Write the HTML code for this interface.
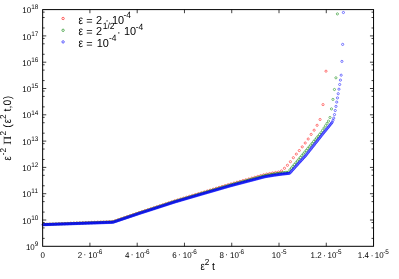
<!DOCTYPE html>
<html><head><meta charset="utf-8"><title>plot</title>
<style>html,body{margin:0;padding:0;background:#fff;}svg{display:block;will-change:transform;}text{text-rendering:geometricPrecision;font-family:"Liberation Sans",sans-serif;fill:#000;}.s{font-family:"Liberation Serif",serif;}</style></head><body>
<svg width="399" height="279" viewBox="0 0 399 279">
<rect x="0" y="0" width="399" height="279" fill="#fff"/>
<g fill="none" stroke="#ff0000" stroke-width="0.5"><circle cx="44.13" cy="224.33" r="1.1"/><circle cx="47.10" cy="224.21" r="1.1"/><circle cx="50.07" cy="224.09" r="1.1"/><circle cx="53.04" cy="223.97" r="1.1"/><circle cx="56.00" cy="223.84" r="1.1"/><circle cx="58.97" cy="223.72" r="1.1"/><circle cx="61.94" cy="223.60" r="1.1"/><circle cx="64.90" cy="223.48" r="1.1"/><circle cx="67.87" cy="223.36" r="1.1"/><circle cx="70.84" cy="223.23" r="1.1"/><circle cx="73.81" cy="223.11" r="1.1"/><circle cx="76.77" cy="222.99" r="1.1"/><circle cx="79.74" cy="222.87" r="1.1"/><circle cx="82.71" cy="222.74" r="1.1"/><circle cx="85.67" cy="222.62" r="1.1"/><circle cx="88.64" cy="222.50" r="1.1"/><circle cx="91.61" cy="222.38" r="1.1"/><circle cx="94.57" cy="222.26" r="1.1"/><circle cx="97.54" cy="222.13" r="1.1"/><circle cx="100.51" cy="222.01" r="1.1"/><circle cx="103.47" cy="221.89" r="1.1"/><circle cx="106.44" cy="221.77" r="1.1"/><circle cx="109.41" cy="221.64" r="1.1"/><circle cx="112.38" cy="221.52" r="1.1"/><circle cx="115.34" cy="220.70" r="1.1"/><circle cx="118.31" cy="219.68" r="1.1"/><circle cx="121.28" cy="218.66" r="1.1"/><circle cx="124.24" cy="217.65" r="1.1"/><circle cx="127.21" cy="216.63" r="1.1"/><circle cx="130.18" cy="215.62" r="1.1"/><circle cx="133.14" cy="214.60" r="1.1"/><circle cx="136.11" cy="213.58" r="1.1"/><circle cx="139.08" cy="212.57" r="1.1"/><circle cx="142.05" cy="211.59" r="1.1"/><circle cx="145.01" cy="210.62" r="1.1"/><circle cx="147.98" cy="209.66" r="1.1"/><circle cx="150.95" cy="208.69" r="1.1"/><circle cx="153.91" cy="207.70" r="1.1"/><circle cx="156.88" cy="206.72" r="1.1"/><circle cx="159.85" cy="205.73" r="1.1"/><circle cx="162.81" cy="204.75" r="1.1"/><circle cx="165.78" cy="203.76" r="1.1"/><circle cx="168.75" cy="202.78" r="1.1"/><circle cx="171.72" cy="201.79" r="1.1"/><circle cx="174.68" cy="200.81" r="1.1"/><circle cx="177.65" cy="199.91" r="1.1"/><circle cx="180.62" cy="199.01" r="1.1"/><circle cx="183.58" cy="198.12" r="1.1"/><circle cx="186.55" cy="197.23" r="1.1"/><circle cx="189.52" cy="196.34" r="1.1"/><circle cx="192.48" cy="195.45" r="1.1"/><circle cx="195.45" cy="194.56" r="1.1"/><circle cx="198.42" cy="193.67" r="1.1"/><circle cx="201.39" cy="192.78" r="1.1"/><circle cx="204.35" cy="191.89" r="1.1"/><circle cx="207.32" cy="190.99" r="1.1"/><circle cx="210.29" cy="190.09" r="1.1"/><circle cx="213.25" cy="189.20" r="1.1"/><circle cx="216.22" cy="188.30" r="1.1"/><circle cx="219.19" cy="187.41" r="1.1"/><circle cx="222.16" cy="186.51" r="1.1"/><circle cx="225.12" cy="185.61" r="1.1"/><circle cx="228.09" cy="184.72" r="1.1"/><circle cx="231.06" cy="183.85" r="1.1"/><circle cx="234.02" cy="183.03" r="1.1"/><circle cx="236.99" cy="182.22" r="1.1"/><circle cx="239.96" cy="181.40" r="1.1"/><circle cx="242.92" cy="180.59" r="1.1"/><circle cx="245.89" cy="179.77" r="1.1"/><circle cx="248.86" cy="178.96" r="1.1"/><circle cx="251.82" cy="178.13" r="1.1"/><circle cx="254.79" cy="177.29" r="1.1"/><circle cx="257.76" cy="176.45" r="1.1"/><circle cx="260.73" cy="175.61" r="1.1"/><circle cx="263.69" cy="174.77" r="1.1"/><circle cx="266.66" cy="174.09" r="1.1"/><circle cx="269.63" cy="173.54" r="1.1"/><circle cx="272.59" cy="172.98" r="1.1"/><circle cx="275.56" cy="172.48" r="1.1"/><circle cx="278.53" cy="172.03" r="1.1"/><circle cx="281.50" cy="170.90" r="1.1"/><circle cx="284.46" cy="168.30" r="1.1"/><circle cx="287.43" cy="165.30" r="1.1"/><circle cx="290.40" cy="161.70" r="1.1"/><circle cx="293.36" cy="157.70" r="1.1"/><circle cx="296.33" cy="154.10" r="1.1"/><circle cx="299.30" cy="150.55" r="1.1"/><circle cx="302.26" cy="146.85" r="1.1"/><circle cx="305.23" cy="143.00" r="1.1"/><circle cx="308.20" cy="139.00" r="1.1"/><circle cx="311.17" cy="134.40" r="1.1"/><circle cx="314.13" cy="130.20" r="1.1"/><circle cx="317.10" cy="125.30" r="1.1"/><circle cx="320.07" cy="119.50" r="1.1"/><circle cx="323.03" cy="104.60" r="1.1"/><circle cx="326.00" cy="71.20" r="1.1"/></g>
<g fill="none" stroke="#008000" stroke-width="0.5"><circle cx="43.67" cy="224.51" r="1.1"/><circle cx="45.15" cy="224.45" r="1.1"/><circle cx="46.63" cy="224.39" r="1.1"/><circle cx="48.12" cy="224.34" r="1.1"/><circle cx="49.60" cy="224.28" r="1.1"/><circle cx="51.08" cy="224.23" r="1.1"/><circle cx="52.57" cy="224.17" r="1.1"/><circle cx="54.05" cy="224.12" r="1.1"/><circle cx="55.53" cy="224.06" r="1.1"/><circle cx="57.02" cy="224.00" r="1.1"/><circle cx="58.50" cy="223.95" r="1.1"/><circle cx="59.99" cy="223.89" r="1.1"/><circle cx="61.47" cy="223.84" r="1.1"/><circle cx="62.95" cy="223.78" r="1.1"/><circle cx="64.44" cy="223.72" r="1.1"/><circle cx="65.92" cy="223.67" r="1.1"/><circle cx="67.40" cy="223.61" r="1.1"/><circle cx="68.89" cy="223.56" r="1.1"/><circle cx="70.37" cy="223.50" r="1.1"/><circle cx="71.85" cy="223.45" r="1.1"/><circle cx="73.34" cy="223.39" r="1.1"/><circle cx="74.82" cy="223.33" r="1.1"/><circle cx="76.30" cy="223.28" r="1.1"/><circle cx="77.79" cy="223.22" r="1.1"/><circle cx="79.27" cy="223.17" r="1.1"/><circle cx="80.75" cy="223.11" r="1.1"/><circle cx="82.24" cy="223.06" r="1.1"/><circle cx="83.72" cy="223.00" r="1.1"/><circle cx="85.20" cy="222.94" r="1.1"/><circle cx="86.69" cy="222.89" r="1.1"/><circle cx="88.17" cy="222.83" r="1.1"/><circle cx="89.66" cy="222.78" r="1.1"/><circle cx="91.14" cy="222.72" r="1.1"/><circle cx="92.62" cy="222.66" r="1.1"/><circle cx="94.11" cy="222.61" r="1.1"/><circle cx="95.59" cy="222.55" r="1.1"/><circle cx="97.07" cy="222.50" r="1.1"/><circle cx="98.56" cy="222.44" r="1.1"/><circle cx="100.04" cy="222.39" r="1.1"/><circle cx="101.52" cy="222.33" r="1.1"/><circle cx="103.01" cy="222.27" r="1.1"/><circle cx="104.49" cy="222.22" r="1.1"/><circle cx="105.97" cy="222.16" r="1.1"/><circle cx="107.46" cy="222.11" r="1.1"/><circle cx="108.94" cy="222.05" r="1.1"/><circle cx="110.42" cy="222.00" r="1.1"/><circle cx="111.91" cy="221.94" r="1.1"/><circle cx="113.39" cy="221.77" r="1.1"/><circle cx="114.87" cy="221.26" r="1.1"/><circle cx="116.36" cy="220.76" r="1.1"/><circle cx="117.84" cy="220.25" r="1.1"/><circle cx="119.33" cy="219.75" r="1.1"/><circle cx="120.81" cy="219.25" r="1.1"/><circle cx="122.29" cy="218.74" r="1.1"/><circle cx="123.78" cy="218.24" r="1.1"/><circle cx="125.26" cy="217.73" r="1.1"/><circle cx="126.74" cy="217.23" r="1.1"/><circle cx="128.23" cy="216.73" r="1.1"/><circle cx="129.71" cy="216.22" r="1.1"/><circle cx="131.19" cy="215.72" r="1.1"/><circle cx="132.68" cy="215.21" r="1.1"/><circle cx="134.16" cy="214.71" r="1.1"/><circle cx="135.64" cy="214.21" r="1.1"/><circle cx="137.13" cy="213.70" r="1.1"/><circle cx="138.61" cy="213.20" r="1.1"/><circle cx="140.09" cy="212.70" r="1.1"/><circle cx="141.58" cy="212.22" r="1.1"/><circle cx="143.06" cy="211.74" r="1.1"/><circle cx="144.54" cy="211.26" r="1.1"/><circle cx="146.03" cy="210.78" r="1.1"/><circle cx="147.51" cy="210.30" r="1.1"/><circle cx="149.00" cy="209.82" r="1.1"/><circle cx="150.48" cy="209.34" r="1.1"/><circle cx="151.96" cy="208.86" r="1.1"/><circle cx="153.45" cy="208.37" r="1.1"/><circle cx="154.93" cy="207.88" r="1.1"/><circle cx="156.41" cy="207.40" r="1.1"/><circle cx="157.90" cy="206.91" r="1.1"/><circle cx="159.38" cy="206.42" r="1.1"/><circle cx="160.86" cy="205.94" r="1.1"/><circle cx="162.35" cy="205.45" r="1.1"/><circle cx="163.83" cy="204.96" r="1.1"/><circle cx="165.31" cy="204.48" r="1.1"/><circle cx="166.80" cy="203.99" r="1.1"/><circle cx="168.28" cy="203.50" r="1.1"/><circle cx="169.76" cy="203.02" r="1.1"/><circle cx="171.25" cy="202.53" r="1.1"/><circle cx="172.73" cy="202.04" r="1.1"/><circle cx="174.21" cy="201.56" r="1.1"/><circle cx="175.70" cy="201.09" r="1.1"/><circle cx="177.18" cy="200.65" r="1.1"/><circle cx="178.67" cy="200.22" r="1.1"/><circle cx="180.15" cy="199.78" r="1.1"/><circle cx="181.63" cy="199.34" r="1.1"/><circle cx="183.12" cy="198.90" r="1.1"/><circle cx="184.60" cy="198.46" r="1.1"/><circle cx="186.08" cy="198.02" r="1.1"/><circle cx="187.57" cy="197.58" r="1.1"/><circle cx="189.05" cy="197.14" r="1.1"/><circle cx="190.53" cy="196.70" r="1.1"/><circle cx="192.02" cy="196.26" r="1.1"/><circle cx="193.50" cy="195.82" r="1.1"/><circle cx="194.98" cy="195.38" r="1.1"/><circle cx="196.47" cy="194.95" r="1.1"/><circle cx="197.95" cy="194.51" r="1.1"/><circle cx="199.43" cy="194.07" r="1.1"/><circle cx="200.92" cy="193.63" r="1.1"/><circle cx="202.40" cy="193.19" r="1.1"/><circle cx="203.88" cy="192.75" r="1.1"/><circle cx="205.37" cy="192.31" r="1.1"/><circle cx="206.85" cy="191.87" r="1.1"/><circle cx="208.34" cy="191.43" r="1.1"/><circle cx="209.82" cy="190.99" r="1.1"/><circle cx="211.30" cy="190.55" r="1.1"/><circle cx="212.79" cy="190.12" r="1.1"/><circle cx="214.27" cy="189.68" r="1.1"/><circle cx="215.75" cy="189.24" r="1.1"/><circle cx="217.24" cy="188.80" r="1.1"/><circle cx="218.72" cy="188.36" r="1.1"/><circle cx="220.20" cy="187.92" r="1.1"/><circle cx="221.69" cy="187.48" r="1.1"/><circle cx="223.17" cy="187.04" r="1.1"/><circle cx="224.65" cy="186.60" r="1.1"/><circle cx="226.14" cy="186.16" r="1.1"/><circle cx="227.62" cy="185.72" r="1.1"/><circle cx="229.10" cy="185.29" r="1.1"/><circle cx="230.59" cy="184.86" r="1.1"/><circle cx="232.07" cy="184.46" r="1.1"/><circle cx="233.55" cy="184.06" r="1.1"/><circle cx="235.04" cy="183.67" r="1.1"/><circle cx="236.52" cy="183.27" r="1.1"/><circle cx="238.01" cy="182.87" r="1.1"/><circle cx="239.49" cy="182.47" r="1.1"/><circle cx="240.97" cy="182.07" r="1.1"/><circle cx="242.46" cy="181.67" r="1.1"/><circle cx="243.94" cy="181.27" r="1.1"/><circle cx="245.42" cy="180.87" r="1.1"/><circle cx="246.91" cy="180.47" r="1.1"/><circle cx="248.39" cy="180.08" r="1.1"/><circle cx="249.87" cy="179.68" r="1.1"/><circle cx="251.36" cy="179.27" r="1.1"/><circle cx="252.84" cy="178.87" r="1.1"/><circle cx="254.32" cy="178.46" r="1.1"/><circle cx="255.81" cy="178.06" r="1.1"/><circle cx="257.29" cy="177.65" r="1.1"/><circle cx="258.77" cy="177.25" r="1.1"/><circle cx="260.26" cy="176.84" r="1.1"/><circle cx="261.74" cy="176.44" r="1.1"/><circle cx="263.22" cy="176.03" r="1.1"/><circle cx="264.71" cy="175.63" r="1.1"/><circle cx="266.19" cy="175.34" r="1.1"/><circle cx="267.68" cy="175.08" r="1.1"/><circle cx="269.16" cy="174.82" r="1.1"/><circle cx="270.64" cy="174.55" r="1.1"/><circle cx="272.13" cy="174.29" r="1.1"/><circle cx="273.61" cy="174.03" r="1.1"/><circle cx="275.09" cy="173.80" r="1.1"/><circle cx="276.58" cy="173.59" r="1.1"/><circle cx="278.06" cy="173.38" r="1.1"/><circle cx="279.54" cy="173.17" r="1.1"/><circle cx="281.03" cy="172.96" r="1.1"/><circle cx="282.51" cy="172.77" r="1.1"/><circle cx="283.99" cy="172.60" r="1.1"/><circle cx="285.48" cy="172.44" r="1.1"/><circle cx="286.96" cy="172.29" r="1.1"/><circle cx="288.44" cy="172.13" r="1.1"/><circle cx="289.93" cy="169.83" r="1.1"/><circle cx="291.41" cy="168.08" r="1.1"/><circle cx="292.89" cy="166.33" r="1.1"/><circle cx="294.38" cy="164.56" r="1.1"/><circle cx="295.86" cy="162.79" r="1.1"/><circle cx="297.35" cy="161.02" r="1.1"/><circle cx="298.83" cy="159.25" r="1.1"/><circle cx="300.31" cy="157.48" r="1.1"/><circle cx="301.80" cy="155.71" r="1.1"/><circle cx="303.28" cy="153.94" r="1.1"/><circle cx="304.76" cy="152.17" r="1.1"/><circle cx="306.25" cy="150.40" r="1.1"/><circle cx="307.73" cy="148.63" r="1.1"/><circle cx="309.21" cy="146.86" r="1.1"/><circle cx="310.70" cy="145.09" r="1.1"/><circle cx="312.18" cy="143.32" r="1.1"/><circle cx="313.66" cy="141.55" r="1.1"/><circle cx="315.15" cy="139.78" r="1.1"/><circle cx="316.63" cy="138.01" r="1.1"/><circle cx="318.11" cy="136.24" r="1.1"/><circle cx="319.60" cy="134.47" r="1.1"/><circle cx="321.08" cy="132.67" r="1.1"/><circle cx="322.56" cy="130.36" r="1.1"/><circle cx="324.05" cy="128.04" r="1.1"/><circle cx="325.53" cy="125.73" r="1.1"/><circle cx="327.02" cy="123.41" r="1.1"/><circle cx="328.50" cy="121.10" r="1.1"/><circle cx="329.98" cy="117.50" r="1.1"/><circle cx="331.47" cy="108.90" r="1.1"/><circle cx="332.95" cy="99.40" r="1.1"/><circle cx="334.43" cy="89.50" r="1.1"/><circle cx="335.92" cy="77.80" r="1.1"/><circle cx="337.40" cy="13.90" r="1.1"/></g>
<g fill="none" stroke="#0000ff" stroke-width="0.5"><circle cx="42.89" cy="224.69" r="1.1"/><circle cx="43.63" cy="224.66" r="1.1"/><circle cx="44.37" cy="224.64" r="1.1"/><circle cx="45.12" cy="224.61" r="1.1"/><circle cx="45.86" cy="224.59" r="1.1"/><circle cx="46.60" cy="224.56" r="1.1"/><circle cx="47.34" cy="224.54" r="1.1"/><circle cx="48.08" cy="224.51" r="1.1"/><circle cx="48.83" cy="224.48" r="1.1"/><circle cx="49.57" cy="224.46" r="1.1"/><circle cx="50.31" cy="224.43" r="1.1"/><circle cx="51.05" cy="224.41" r="1.1"/><circle cx="51.79" cy="224.38" r="1.1"/><circle cx="52.54" cy="224.36" r="1.1"/><circle cx="53.28" cy="224.33" r="1.1"/><circle cx="54.02" cy="224.31" r="1.1"/><circle cx="54.76" cy="224.28" r="1.1"/><circle cx="55.50" cy="224.26" r="1.1"/><circle cx="56.25" cy="224.23" r="1.1"/><circle cx="56.99" cy="224.21" r="1.1"/><circle cx="57.73" cy="224.18" r="1.1"/><circle cx="58.47" cy="224.16" r="1.1"/><circle cx="59.21" cy="224.13" r="1.1"/><circle cx="59.96" cy="224.11" r="1.1"/><circle cx="60.70" cy="224.08" r="1.1"/><circle cx="61.44" cy="224.06" r="1.1"/><circle cx="62.18" cy="224.03" r="1.1"/><circle cx="62.92" cy="224.00" r="1.1"/><circle cx="63.67" cy="223.98" r="1.1"/><circle cx="64.41" cy="223.95" r="1.1"/><circle cx="65.15" cy="223.93" r="1.1"/><circle cx="65.89" cy="223.90" r="1.1"/><circle cx="66.63" cy="223.88" r="1.1"/><circle cx="67.38" cy="223.85" r="1.1"/><circle cx="68.12" cy="223.83" r="1.1"/><circle cx="68.86" cy="223.80" r="1.1"/><circle cx="69.60" cy="223.78" r="1.1"/><circle cx="70.34" cy="223.75" r="1.1"/><circle cx="71.09" cy="223.73" r="1.1"/><circle cx="71.83" cy="223.70" r="1.1"/><circle cx="72.57" cy="223.68" r="1.1"/><circle cx="73.31" cy="223.65" r="1.1"/><circle cx="74.05" cy="223.63" r="1.1"/><circle cx="74.80" cy="223.60" r="1.1"/><circle cx="75.54" cy="223.58" r="1.1"/><circle cx="76.28" cy="223.55" r="1.1"/><circle cx="77.02" cy="223.52" r="1.1"/><circle cx="77.76" cy="223.50" r="1.1"/><circle cx="78.51" cy="223.47" r="1.1"/><circle cx="79.25" cy="223.45" r="1.1"/><circle cx="79.99" cy="223.42" r="1.1"/><circle cx="80.73" cy="223.40" r="1.1"/><circle cx="81.47" cy="223.37" r="1.1"/><circle cx="82.22" cy="223.35" r="1.1"/><circle cx="82.96" cy="223.32" r="1.1"/><circle cx="83.70" cy="223.30" r="1.1"/><circle cx="84.44" cy="223.27" r="1.1"/><circle cx="85.18" cy="223.25" r="1.1"/><circle cx="85.93" cy="223.22" r="1.1"/><circle cx="86.67" cy="223.20" r="1.1"/><circle cx="87.41" cy="223.17" r="1.1"/><circle cx="88.15" cy="223.15" r="1.1"/><circle cx="88.89" cy="223.12" r="1.1"/><circle cx="89.64" cy="223.10" r="1.1"/><circle cx="90.38" cy="223.07" r="1.1"/><circle cx="91.12" cy="223.04" r="1.1"/><circle cx="91.86" cy="223.02" r="1.1"/><circle cx="92.60" cy="222.99" r="1.1"/><circle cx="93.35" cy="222.97" r="1.1"/><circle cx="94.09" cy="222.94" r="1.1"/><circle cx="94.83" cy="222.92" r="1.1"/><circle cx="95.57" cy="222.89" r="1.1"/><circle cx="96.31" cy="222.87" r="1.1"/><circle cx="97.06" cy="222.84" r="1.1"/><circle cx="97.80" cy="222.82" r="1.1"/><circle cx="98.54" cy="222.79" r="1.1"/><circle cx="99.28" cy="222.77" r="1.1"/><circle cx="100.02" cy="222.74" r="1.1"/><circle cx="100.77" cy="222.72" r="1.1"/><circle cx="101.51" cy="222.69" r="1.1"/><circle cx="102.25" cy="222.67" r="1.1"/><circle cx="102.99" cy="222.64" r="1.1"/><circle cx="103.73" cy="222.62" r="1.1"/><circle cx="104.48" cy="222.59" r="1.1"/><circle cx="105.22" cy="222.56" r="1.1"/><circle cx="105.96" cy="222.54" r="1.1"/><circle cx="106.70" cy="222.51" r="1.1"/><circle cx="107.44" cy="222.49" r="1.1"/><circle cx="108.19" cy="222.46" r="1.1"/><circle cx="108.93" cy="222.44" r="1.1"/><circle cx="109.67" cy="222.41" r="1.1"/><circle cx="110.41" cy="222.39" r="1.1"/><circle cx="111.15" cy="222.36" r="1.1"/><circle cx="111.90" cy="222.34" r="1.1"/><circle cx="112.64" cy="222.31" r="1.1"/><circle cx="113.38" cy="222.17" r="1.1"/><circle cx="114.12" cy="221.92" r="1.1"/><circle cx="114.86" cy="221.67" r="1.1"/><circle cx="115.61" cy="221.42" r="1.1"/><circle cx="116.35" cy="221.17" r="1.1"/><circle cx="117.09" cy="220.92" r="1.1"/><circle cx="117.83" cy="220.67" r="1.1"/><circle cx="118.57" cy="220.42" r="1.1"/><circle cx="119.32" cy="220.17" r="1.1"/><circle cx="120.06" cy="219.92" r="1.1"/><circle cx="120.80" cy="219.67" r="1.1"/><circle cx="121.54" cy="219.42" r="1.1"/><circle cx="122.28" cy="219.17" r="1.1"/><circle cx="123.03" cy="218.92" r="1.1"/><circle cx="123.77" cy="218.67" r="1.1"/><circle cx="124.51" cy="218.42" r="1.1"/><circle cx="125.25" cy="218.17" r="1.1"/><circle cx="125.99" cy="217.92" r="1.1"/><circle cx="126.74" cy="217.67" r="1.1"/><circle cx="127.48" cy="217.42" r="1.1"/><circle cx="128.22" cy="217.17" r="1.1"/><circle cx="128.96" cy="216.92" r="1.1"/><circle cx="129.70" cy="216.67" r="1.1"/><circle cx="130.45" cy="216.42" r="1.1"/><circle cx="131.19" cy="216.17" r="1.1"/><circle cx="131.93" cy="215.92" r="1.1"/><circle cx="132.67" cy="215.67" r="1.1"/><circle cx="133.41" cy="215.42" r="1.1"/><circle cx="134.16" cy="215.17" r="1.1"/><circle cx="134.90" cy="214.92" r="1.1"/><circle cx="135.64" cy="214.67" r="1.1"/><circle cx="136.38" cy="214.42" r="1.1"/><circle cx="137.12" cy="214.17" r="1.1"/><circle cx="137.87" cy="213.92" r="1.1"/><circle cx="138.61" cy="213.67" r="1.1"/><circle cx="139.35" cy="213.42" r="1.1"/><circle cx="140.09" cy="213.17" r="1.1"/><circle cx="140.83" cy="212.93" r="1.1"/><circle cx="141.58" cy="212.70" r="1.1"/><circle cx="142.32" cy="212.46" r="1.1"/><circle cx="143.06" cy="212.22" r="1.1"/><circle cx="143.80" cy="211.98" r="1.1"/><circle cx="144.54" cy="211.75" r="1.1"/><circle cx="145.29" cy="211.51" r="1.1"/><circle cx="146.03" cy="211.27" r="1.1"/><circle cx="146.77" cy="211.03" r="1.1"/><circle cx="147.51" cy="210.80" r="1.1"/><circle cx="148.25" cy="210.56" r="1.1"/><circle cx="149.00" cy="210.32" r="1.1"/><circle cx="149.74" cy="210.08" r="1.1"/><circle cx="150.48" cy="209.84" r="1.1"/><circle cx="151.22" cy="209.60" r="1.1"/><circle cx="151.96" cy="209.36" r="1.1"/><circle cx="152.71" cy="209.12" r="1.1"/><circle cx="153.45" cy="208.88" r="1.1"/><circle cx="154.19" cy="208.64" r="1.1"/><circle cx="154.93" cy="208.40" r="1.1"/><circle cx="155.67" cy="208.16" r="1.1"/><circle cx="156.42" cy="207.92" r="1.1"/><circle cx="157.16" cy="207.68" r="1.1"/><circle cx="157.90" cy="207.44" r="1.1"/><circle cx="158.64" cy="207.20" r="1.1"/><circle cx="159.38" cy="206.96" r="1.1"/><circle cx="160.13" cy="206.72" r="1.1"/><circle cx="160.87" cy="206.48" r="1.1"/><circle cx="161.61" cy="206.24" r="1.1"/><circle cx="162.35" cy="206.00" r="1.1"/><circle cx="163.09" cy="205.76" r="1.1"/><circle cx="163.84" cy="205.52" r="1.1"/><circle cx="164.58" cy="205.28" r="1.1"/><circle cx="165.32" cy="205.04" r="1.1"/><circle cx="166.06" cy="204.80" r="1.1"/><circle cx="166.80" cy="204.56" r="1.1"/><circle cx="167.55" cy="204.32" r="1.1"/><circle cx="168.29" cy="204.07" r="1.1"/><circle cx="169.03" cy="203.83" r="1.1"/><circle cx="169.77" cy="203.59" r="1.1"/><circle cx="170.51" cy="203.35" r="1.1"/><circle cx="171.26" cy="203.11" r="1.1"/><circle cx="172.00" cy="202.87" r="1.1"/><circle cx="172.74" cy="202.63" r="1.1"/><circle cx="173.48" cy="202.39" r="1.1"/><circle cx="174.22" cy="202.15" r="1.1"/><circle cx="174.97" cy="201.91" r="1.1"/><circle cx="175.71" cy="201.69" r="1.1"/><circle cx="176.45" cy="201.48" r="1.1"/><circle cx="177.19" cy="201.26" r="1.1"/><circle cx="177.93" cy="201.04" r="1.1"/><circle cx="178.68" cy="200.83" r="1.1"/><circle cx="179.42" cy="200.61" r="1.1"/><circle cx="180.16" cy="200.39" r="1.1"/><circle cx="180.90" cy="200.18" r="1.1"/><circle cx="181.64" cy="199.96" r="1.1"/><circle cx="182.39" cy="199.74" r="1.1"/><circle cx="183.13" cy="199.53" r="1.1"/><circle cx="183.87" cy="199.31" r="1.1"/><circle cx="184.61" cy="199.09" r="1.1"/><circle cx="185.35" cy="198.88" r="1.1"/><circle cx="186.10" cy="198.66" r="1.1"/><circle cx="186.84" cy="198.44" r="1.1"/><circle cx="187.58" cy="198.23" r="1.1"/><circle cx="188.32" cy="198.01" r="1.1"/><circle cx="189.06" cy="197.79" r="1.1"/><circle cx="189.81" cy="197.58" r="1.1"/><circle cx="190.55" cy="197.36" r="1.1"/><circle cx="191.29" cy="197.14" r="1.1"/><circle cx="192.03" cy="196.93" r="1.1"/><circle cx="192.77" cy="196.71" r="1.1"/><circle cx="193.52" cy="196.49" r="1.1"/><circle cx="194.26" cy="196.28" r="1.1"/><circle cx="195.00" cy="196.06" r="1.1"/><circle cx="195.74" cy="195.84" r="1.1"/><circle cx="196.48" cy="195.63" r="1.1"/><circle cx="197.23" cy="195.41" r="1.1"/><circle cx="197.97" cy="195.19" r="1.1"/><circle cx="198.71" cy="194.98" r="1.1"/><circle cx="199.45" cy="194.76" r="1.1"/><circle cx="200.19" cy="194.54" r="1.1"/><circle cx="200.94" cy="194.33" r="1.1"/><circle cx="201.68" cy="194.11" r="1.1"/><circle cx="202.42" cy="193.90" r="1.1"/><circle cx="203.16" cy="193.68" r="1.1"/><circle cx="203.90" cy="193.47" r="1.1"/><circle cx="204.65" cy="193.25" r="1.1"/><circle cx="205.39" cy="193.04" r="1.1"/><circle cx="206.13" cy="192.82" r="1.1"/><circle cx="206.87" cy="192.61" r="1.1"/><circle cx="207.61" cy="192.39" r="1.1"/><circle cx="208.36" cy="192.18" r="1.1"/><circle cx="209.10" cy="191.96" r="1.1"/><circle cx="209.84" cy="191.75" r="1.1"/><circle cx="210.58" cy="191.53" r="1.1"/><circle cx="211.32" cy="191.32" r="1.1"/><circle cx="212.07" cy="191.10" r="1.1"/><circle cx="212.81" cy="190.89" r="1.1"/><circle cx="213.55" cy="190.67" r="1.1"/><circle cx="214.29" cy="190.46" r="1.1"/><circle cx="215.03" cy="190.24" r="1.1"/><circle cx="215.78" cy="190.02" r="1.1"/><circle cx="216.52" cy="189.81" r="1.1"/><circle cx="217.26" cy="189.59" r="1.1"/><circle cx="218.00" cy="189.38" r="1.1"/><circle cx="218.74" cy="189.16" r="1.1"/><circle cx="219.49" cy="188.95" r="1.1"/><circle cx="220.23" cy="188.73" r="1.1"/><circle cx="220.97" cy="188.52" r="1.1"/><circle cx="221.71" cy="188.30" r="1.1"/><circle cx="222.45" cy="188.09" r="1.1"/><circle cx="223.20" cy="187.87" r="1.1"/><circle cx="223.94" cy="187.66" r="1.1"/><circle cx="224.68" cy="187.44" r="1.1"/><circle cx="225.42" cy="187.23" r="1.1"/><circle cx="226.16" cy="187.01" r="1.1"/><circle cx="226.91" cy="186.80" r="1.1"/><circle cx="227.65" cy="186.58" r="1.1"/><circle cx="228.39" cy="186.37" r="1.1"/><circle cx="229.13" cy="186.15" r="1.1"/><circle cx="229.87" cy="185.94" r="1.1"/><circle cx="230.62" cy="185.74" r="1.1"/><circle cx="231.36" cy="185.54" r="1.1"/><circle cx="232.10" cy="185.35" r="1.1"/><circle cx="232.84" cy="185.15" r="1.1"/><circle cx="233.58" cy="184.96" r="1.1"/><circle cx="234.33" cy="184.76" r="1.1"/><circle cx="235.07" cy="184.57" r="1.1"/><circle cx="235.81" cy="184.37" r="1.1"/><circle cx="236.55" cy="184.18" r="1.1"/><circle cx="237.29" cy="183.98" r="1.1"/><circle cx="238.04" cy="183.79" r="1.1"/><circle cx="238.78" cy="183.59" r="1.1"/><circle cx="239.52" cy="183.40" r="1.1"/><circle cx="240.26" cy="183.20" r="1.1"/><circle cx="241.00" cy="183.01" r="1.1"/><circle cx="241.75" cy="182.81" r="1.1"/><circle cx="242.49" cy="182.62" r="1.1"/><circle cx="243.23" cy="182.42" r="1.1"/><circle cx="243.97" cy="182.23" r="1.1"/><circle cx="244.71" cy="182.03" r="1.1"/><circle cx="245.46" cy="181.84" r="1.1"/><circle cx="246.20" cy="181.64" r="1.1"/><circle cx="246.94" cy="181.45" r="1.1"/><circle cx="247.68" cy="181.25" r="1.1"/><circle cx="248.42" cy="181.06" r="1.1"/><circle cx="249.17" cy="180.86" r="1.1"/><circle cx="249.91" cy="180.67" r="1.1"/><circle cx="250.65" cy="180.47" r="1.1"/><circle cx="251.39" cy="180.28" r="1.1"/><circle cx="252.13" cy="180.08" r="1.1"/><circle cx="252.88" cy="179.89" r="1.1"/><circle cx="253.62" cy="179.69" r="1.1"/><circle cx="254.36" cy="179.50" r="1.1"/><circle cx="255.10" cy="179.30" r="1.1"/><circle cx="255.84" cy="179.11" r="1.1"/><circle cx="256.59" cy="178.91" r="1.1"/><circle cx="257.33" cy="178.72" r="1.1"/><circle cx="258.07" cy="178.52" r="1.1"/><circle cx="258.81" cy="178.33" r="1.1"/><circle cx="259.55" cy="178.13" r="1.1"/><circle cx="260.30" cy="177.94" r="1.1"/><circle cx="261.04" cy="177.74" r="1.1"/><circle cx="261.78" cy="177.55" r="1.1"/><circle cx="262.52" cy="177.35" r="1.1"/><circle cx="263.26" cy="177.16" r="1.1"/><circle cx="264.01" cy="176.96" r="1.1"/><circle cx="264.75" cy="176.77" r="1.1"/><circle cx="265.49" cy="176.62" r="1.1"/><circle cx="266.23" cy="176.49" r="1.1"/><circle cx="266.97" cy="176.37" r="1.1"/><circle cx="267.72" cy="176.25" r="1.1"/><circle cx="268.46" cy="176.12" r="1.1"/><circle cx="269.20" cy="176.00" r="1.1"/><circle cx="269.94" cy="175.88" r="1.1"/><circle cx="270.68" cy="175.75" r="1.1"/><circle cx="271.43" cy="175.63" r="1.1"/><circle cx="272.17" cy="175.51" r="1.1"/><circle cx="272.91" cy="175.38" r="1.1"/><circle cx="273.65" cy="175.26" r="1.1"/><circle cx="274.39" cy="175.15" r="1.1"/><circle cx="275.14" cy="175.05" r="1.1"/><circle cx="275.88" cy="174.95" r="1.1"/><circle cx="276.62" cy="174.85" r="1.1"/><circle cx="277.36" cy="174.75" r="1.1"/><circle cx="278.10" cy="174.65" r="1.1"/><circle cx="278.85" cy="174.55" r="1.1"/><circle cx="279.59" cy="174.45" r="1.1"/><circle cx="280.33" cy="174.36" r="1.1"/><circle cx="281.07" cy="174.26" r="1.1"/><circle cx="281.81" cy="174.16" r="1.1"/><circle cx="282.56" cy="174.06" r="1.1"/><circle cx="283.30" cy="173.97" r="1.1"/><circle cx="284.04" cy="173.89" r="1.1"/><circle cx="284.78" cy="173.81" r="1.1"/><circle cx="285.52" cy="173.74" r="1.1"/><circle cx="286.27" cy="173.66" r="1.1"/><circle cx="287.01" cy="173.58" r="1.1"/><circle cx="287.75" cy="173.50" r="1.1"/><circle cx="288.49" cy="173.43" r="1.1"/><circle cx="289.23" cy="173.35" r="1.1"/><circle cx="289.98" cy="172.99" r="1.1"/><circle cx="290.72" cy="172.15" r="1.1"/><circle cx="291.46" cy="171.32" r="1.1"/><circle cx="292.20" cy="170.48" r="1.1"/><circle cx="292.94" cy="169.65" r="1.1"/><circle cx="293.69" cy="168.81" r="1.1"/><circle cx="294.43" cy="167.97" r="1.1"/><circle cx="295.17" cy="167.14" r="1.1"/><circle cx="295.91" cy="166.30" r="1.1"/><circle cx="296.65" cy="165.47" r="1.1"/><circle cx="297.40" cy="164.63" r="1.1"/><circle cx="298.14" cy="163.81" r="1.1"/><circle cx="298.88" cy="163.01" r="1.1"/><circle cx="299.62" cy="162.20" r="1.1"/><circle cx="300.36" cy="161.39" r="1.1"/><circle cx="301.11" cy="160.59" r="1.1"/><circle cx="301.85" cy="159.78" r="1.1"/><circle cx="302.59" cy="158.97" r="1.1"/><circle cx="303.33" cy="158.17" r="1.1"/><circle cx="304.07" cy="157.36" r="1.1"/><circle cx="304.82" cy="156.55" r="1.1"/><circle cx="305.56" cy="155.75" r="1.1"/><circle cx="306.30" cy="154.81" r="1.1"/><circle cx="307.04" cy="153.87" r="1.1"/><circle cx="307.78" cy="152.93" r="1.1"/><circle cx="308.53" cy="151.99" r="1.1"/><circle cx="309.27" cy="151.05" r="1.1"/><circle cx="310.01" cy="150.11" r="1.1"/><circle cx="310.75" cy="149.17" r="1.1"/><circle cx="311.49" cy="148.23" r="1.1"/><circle cx="312.24" cy="147.29" r="1.1"/><circle cx="312.98" cy="146.35" r="1.1"/><circle cx="313.72" cy="145.41" r="1.1"/><circle cx="314.46" cy="144.47" r="1.1"/><circle cx="315.20" cy="143.53" r="1.1"/><circle cx="315.95" cy="142.59" r="1.1"/><circle cx="316.69" cy="141.65" r="1.1"/><circle cx="317.43" cy="140.71" r="1.1"/><circle cx="318.17" cy="139.77" r="1.1"/><circle cx="318.91" cy="138.83" r="1.1"/><circle cx="319.66" cy="137.88" r="1.1"/><circle cx="320.40" cy="136.94" r="1.1"/><circle cx="321.14" cy="136.00" r="1.1"/><circle cx="321.88" cy="135.06" r="1.1"/><circle cx="322.62" cy="134.12" r="1.1"/><circle cx="323.37" cy="133.20" r="1.1"/><circle cx="324.11" cy="132.29" r="1.1"/><circle cx="324.85" cy="131.37" r="1.1"/><circle cx="325.59" cy="130.46" r="1.1"/><circle cx="326.33" cy="129.54" r="1.1"/><circle cx="327.08" cy="128.63" r="1.1"/><circle cx="327.82" cy="127.72" r="1.1"/><circle cx="328.56" cy="126.80" r="1.1"/><circle cx="329.30" cy="125.89" r="1.1"/><circle cx="330.04" cy="124.97" r="1.1"/><circle cx="330.79" cy="124.06" r="1.1"/><circle cx="331.53" cy="123.14" r="1.1"/><circle cx="332.27" cy="122.23" r="1.1"/><circle cx="333.01" cy="120.30" r="1.1"/><circle cx="333.75" cy="118.10" r="1.1"/><circle cx="334.50" cy="114.60" r="1.1"/><circle cx="335.24" cy="110.50" r="1.1"/><circle cx="335.98" cy="106.40" r="1.1"/><circle cx="336.72" cy="102.10" r="1.1"/><circle cx="337.46" cy="97.90" r="1.1"/><circle cx="338.21" cy="93.70" r="1.1"/><circle cx="338.95" cy="89.20" r="1.1"/><circle cx="339.69" cy="84.50" r="1.1"/><circle cx="340.43" cy="80.10" r="1.1"/><circle cx="341.17" cy="75.20" r="1.1"/><circle cx="341.92" cy="61.40" r="1.1"/><circle cx="342.66" cy="44.40" r="1.1"/><circle cx="343.40" cy="12.50" r="1.1"/></g>
<rect x="42.65" y="9.6" width="330.90000000000003" height="236.70000000000002" fill="none" stroke="#000" stroke-width="1"/>
<path d="M42.65 238.38h2.0M373.55 238.38h-2.0M42.65 227.92h2.0M373.55 227.92h-2.0M42.65 222.55h2.0M373.55 222.55h-2.0M42.65 220.00h3.6M373.55 220.00h-3.6M42.65 212.08h2.0M373.55 212.08h-2.0M42.65 201.62h2.0M373.55 201.62h-2.0M42.65 196.25h2.0M373.55 196.25h-2.0M42.65 193.70h3.6M373.55 193.70h-3.6M42.65 185.78h2.0M373.55 185.78h-2.0M42.65 175.32h2.0M373.55 175.32h-2.0M42.65 169.95h2.0M373.55 169.95h-2.0M42.65 167.40h3.6M373.55 167.40h-3.6M42.65 159.48h2.0M373.55 159.48h-2.0M42.65 149.02h2.0M373.55 149.02h-2.0M42.65 143.65h2.0M373.55 143.65h-2.0M42.65 141.10h3.6M373.55 141.10h-3.6M42.65 133.18h2.0M373.55 133.18h-2.0M42.65 122.72h2.0M373.55 122.72h-2.0M42.65 117.35h2.0M373.55 117.35h-2.0M42.65 114.80h3.6M373.55 114.80h-3.6M42.65 106.88h2.0M373.55 106.88h-2.0M42.65 96.42h2.0M373.55 96.42h-2.0M42.65 91.05h2.0M373.55 91.05h-2.0M42.65 88.50h3.6M373.55 88.50h-3.6M42.65 80.58h2.0M373.55 80.58h-2.0M42.65 70.12h2.0M373.55 70.12h-2.0M42.65 64.75h2.0M373.55 64.75h-2.0M42.65 62.20h3.6M373.55 62.20h-3.6M42.65 54.28h2.0M373.55 54.28h-2.0M42.65 43.82h2.0M373.55 43.82h-2.0M42.65 38.45h2.0M373.55 38.45h-2.0M42.65 35.90h3.6M373.55 35.90h-3.6M42.65 27.98h2.0M373.55 27.98h-2.0M42.65 17.52h2.0M373.55 17.52h-2.0M42.65 12.15h2.0M373.55 12.15h-2.0M89.92 246.3v-3.6M89.92 9.6v3.6M137.19 246.3v-3.6M137.19 9.6v3.6M184.46 246.3v-3.6M184.46 9.6v3.6M231.74 246.3v-3.6M231.74 9.6v3.6M279.01 246.3v-3.6M279.01 9.6v3.6M326.28 246.3v-3.6M326.28 9.6v3.6" stroke="#000" stroke-width="0.75" fill="none"/>
<text transform="translate(34.86,246.00) scale(0.95,1.0)" font-size="6.7">9</text>
<text transform="translate(34.76,249.90) scale(0.95,1.0)" font-size="8.4" text-anchor="end">10</text>
<text transform="translate(31.32,219.70) scale(0.95,1.0)" font-size="6.7">10</text>
<text transform="translate(31.22,223.60) scale(0.95,1.0)" font-size="8.4" text-anchor="end">10</text>
<text transform="translate(31.32,193.40) scale(0.95,1.0)" font-size="6.7">11</text>
<text transform="translate(31.22,197.30) scale(0.95,1.0)" font-size="8.4" text-anchor="end">10</text>
<text transform="translate(31.32,167.10) scale(0.95,1.0)" font-size="6.7">12</text>
<text transform="translate(31.22,171.00) scale(0.95,1.0)" font-size="8.4" text-anchor="end">10</text>
<text transform="translate(31.32,140.80) scale(0.95,1.0)" font-size="6.7">13</text>
<text transform="translate(31.22,144.70) scale(0.95,1.0)" font-size="8.4" text-anchor="end">10</text>
<text transform="translate(31.32,114.50) scale(0.95,1.0)" font-size="6.7">14</text>
<text transform="translate(31.22,118.40) scale(0.95,1.0)" font-size="8.4" text-anchor="end">10</text>
<text transform="translate(31.32,88.20) scale(0.95,1.0)" font-size="6.7">15</text>
<text transform="translate(31.22,92.10) scale(0.95,1.0)" font-size="8.4" text-anchor="end">10</text>
<text transform="translate(31.32,61.90) scale(0.95,1.0)" font-size="6.7">16</text>
<text transform="translate(31.22,65.80) scale(0.95,1.0)" font-size="8.4" text-anchor="end">10</text>
<text transform="translate(31.32,35.60) scale(0.95,1.0)" font-size="6.7">17</text>
<text transform="translate(31.22,39.50) scale(0.95,1.0)" font-size="8.4" text-anchor="end">10</text>
<text transform="translate(31.32,9.30) scale(0.95,1.0)" font-size="6.7">18</text>
<text transform="translate(31.22,13.20) scale(0.95,1.0)" font-size="8.4" text-anchor="end">10</text>
<text transform="translate(42.65,257.70) scale(0.95,1.0)" font-size="8.4" text-anchor="middle">0</text>
<text transform="translate(77.72,257.70) scale(0.95,1.0)" font-size="8.4">2</text>
<text transform="translate(84.82,257.20) scale(0.95,1.0)" font-size="8.4" text-anchor="middle">·</text>
<text transform="translate(88.22,257.70) scale(0.95,1.0)" font-size="8.4">10</text>
<text transform="translate(96.67,253.70) scale(0.95,1.0)" font-size="6.7">-6</text>
<text transform="translate(124.99,257.70) scale(0.95,1.0)" font-size="8.4">4</text>
<text transform="translate(132.09,257.20) scale(0.95,1.0)" font-size="8.4" text-anchor="middle">·</text>
<text transform="translate(135.49,257.70) scale(0.95,1.0)" font-size="8.4">10</text>
<text transform="translate(143.94,253.70) scale(0.95,1.0)" font-size="6.7">-6</text>
<text transform="translate(172.26,257.70) scale(0.95,1.0)" font-size="8.4">6</text>
<text transform="translate(179.36,257.20) scale(0.95,1.0)" font-size="8.4" text-anchor="middle">·</text>
<text transform="translate(182.76,257.70) scale(0.95,1.0)" font-size="8.4">10</text>
<text transform="translate(191.21,253.70) scale(0.95,1.0)" font-size="6.7">-6</text>
<text transform="translate(219.54,257.70) scale(0.95,1.0)" font-size="8.4">8</text>
<text transform="translate(226.64,257.20) scale(0.95,1.0)" font-size="8.4" text-anchor="middle">·</text>
<text transform="translate(230.04,257.70) scale(0.95,1.0)" font-size="8.4">10</text>
<text transform="translate(238.49,253.70) scale(0.95,1.0)" font-size="6.7">-6</text>
<text transform="translate(271.81,257.70) scale(0.95,1.0)" font-size="8.4">10</text>
<text transform="translate(280.91,253.70) scale(0.95,1.0)" font-size="6.7">-5</text>
<text transform="translate(310.58,257.70) scale(0.95,1.0)" font-size="8.4">1.2</text>
<text transform="translate(324.68,257.70) scale(0.95,1.0)" font-size="8.4" text-anchor="middle">·</text>
<text transform="translate(327.48,257.70) scale(0.95,1.0)" font-size="8.4">10</text>
<text transform="translate(335.98,253.70) scale(0.95,1.0)" font-size="6.7">-5</text>
<text transform="translate(357.85,257.70) scale(0.95,1.0)" font-size="8.4">1.4</text>
<text transform="translate(371.95,257.70) scale(0.95,1.0)" font-size="8.4" text-anchor="middle">·</text>
<text transform="translate(374.75,257.70) scale(0.95,1.0)" font-size="8.4">10</text>
<text transform="translate(383.25,253.70) scale(0.95,1.0)" font-size="6.7">-5</text>
<text transform="translate(200.50,270.25) scale(0.88,1.04)" font-size="11">ε</text>
<text transform="translate(204.80,265.20) scale(0.94,1.0)" font-size="8.7">2</text>
<text transform="translate(212.10,270.00) scale(0.94,1.0)" font-size="11">t</text>
<g transform="translate(11.25,160.4) rotate(-90)">
<text transform="translate(0.00,-0.30) scale(0.88,1.04)" font-size="11">ε</text>
<text transform="translate(5.20,-5.40) scale(0.94,1.0)" font-size="8.7">-2</text>
<text transform="translate(15.70,0.00) scale(1.12,1.0)" font-size="11" class="s">Π</text>
<text transform="translate(24.80,-5.40) scale(0.94,1.0)" font-size="8.7">2</text>
<text transform="translate(32.70,0.00) scale(0.94,1.0)" font-size="11">(</text>
<text transform="translate(37.20,-0.30) scale(0.88,1.04)" font-size="11">ε</text>
<text transform="translate(41.30,-5.40) scale(0.94,1.0)" font-size="8.7">2</text>
<text transform="translate(48.90,0.00) scale(0.94,1.0)" font-size="11">t</text>
<text transform="translate(51.80,0.00) scale(0.94,1.0)" font-size="11">,</text>
<text transform="translate(54.90,0.00) scale(0.94,1.0)" font-size="11">0</text>
<text transform="translate(61.20,0.00) scale(0.94,1.0)" font-size="11">)</text>
</g>
<circle cx="63.1" cy="18.5" r="1.2" fill="none" stroke="#ff0000" stroke-width="0.6"/>
<circle cx="63.1" cy="30.3" r="1.2" fill="none" stroke="#008000" stroke-width="0.6"/>
<circle cx="63.1" cy="41.9" r="1.2" fill="none" stroke="#0000ff" stroke-width="0.6"/>
<text transform="translate(78.50,24.05) scale(0.88,1.04)" font-size="11.6">ε</text><text transform="translate(86.20,23.70) scale(0.94,0.83)" font-size="11.6">=</text><text transform="translate(95.90,23.80) scale(0.94,1.0)" font-size="11.6">2</text><text transform="translate(107.10,24.40) scale(0.94,1.0)" font-size="11.6" text-anchor="middle">·</text><text transform="translate(111.90,23.80) scale(0.94,1.0)" font-size="11.6">10</text><text transform="translate(123.40,18.10) scale(0.94,1.0)" font-size="9.0">-4</text>
<text transform="translate(78.50,35.45) scale(0.88,1.04)" font-size="11.6">ε</text><text transform="translate(86.20,35.10) scale(0.94,0.83)" font-size="11.6">=</text><text transform="translate(95.90,35.20) scale(0.94,1.0)" font-size="11.6">2</text><text transform="translate(102.80,29.20) scale(0.94,1.0)" font-size="9.0">1/2</text><text transform="translate(118.90,36.40) scale(0.94,1.0)" font-size="11.6" text-anchor="middle">·</text><text transform="translate(123.90,35.20) scale(0.94,1.0)" font-size="11.6">10</text><text transform="translate(135.80,29.50) scale(0.94,1.0)" font-size="9.0">-4</text>
<text transform="translate(78.50,46.85) scale(0.88,1.04)" font-size="11.6">ε</text><text transform="translate(86.20,46.50) scale(0.94,0.83)" font-size="11.6">=</text><text transform="translate(96.70,46.60) scale(0.94,1.0)" font-size="11.6">10</text><text transform="translate(108.90,40.90) scale(0.94,1.0)" font-size="9.0">-4</text>
</svg></body></html>
